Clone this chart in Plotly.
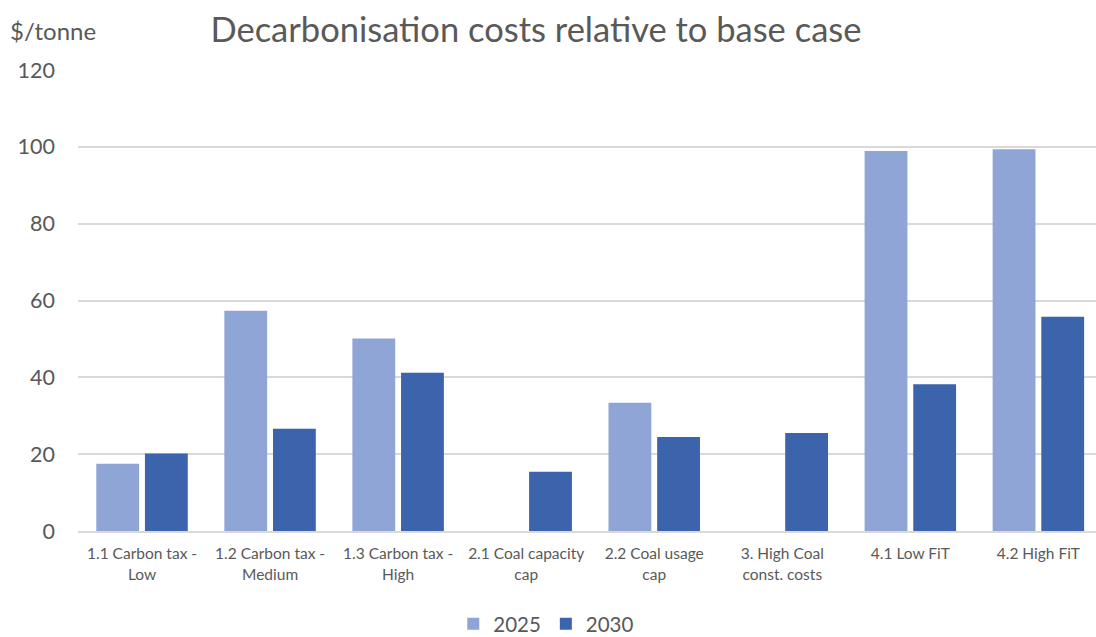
import plotly.graph_objects as go

categories = [
    "1.1 Carbon tax -<br>Low",
    "1.2 Carbon tax -<br>Medium",
    "1.3 Carbon tax -<br>High",
    "2.1 Coal capacity<br>cap",
    "2.2 Coal usage<br>cap",
    "3. High Coal<br>const. costs",
    "4.1 Low FiT",
    "4.2 High FiT",
]
values_2025 = [17.5, 57.3, 50.1, None, 33.4, None, 98.9, 99.4]
values_2030 = [20.2, 26.6, 41.2, 15.4, 24.5, 25.5, 38.2, 55.8]

FONT = "Lato"
TEXT = "#595959"

fig = go.Figure()
fig.add_trace(go.Bar(name="2025", x=categories, y=values_2025,
                     marker=dict(color="#8FA5D5", line=dict(width=0))))
fig.add_trace(go.Bar(name="2030", x=categories, y=values_2030,
                     marker=dict(color="#3B64AD", line=dict(width=0))))

fig.update_layout(
    width=1096, height=637,
    paper_bgcolor="white", plot_bgcolor="white",
    margin=dict(l=78, r=0, t=70, b=106, autoexpand=False),
    barmode="group", bargap=0.24, bargroupgap=0.12,
    font=dict(family=FONT, color=TEXT),
    title=dict(text="Decarbonisation costs relative to base case",
               x=0.489, xanchor="center", y=0.953, yanchor="middle",
               font=dict(size=34.5, color=TEXT, family=FONT)),
    xaxis=dict(showgrid=False, showline=True, linecolor="#D9D9D9", linewidth=1.5,
               ticks="", tickfont=dict(size=15.5, color=TEXT), automargin=False,
               range=[-0.5, 7.45], ticklabelstandoff=8),
    yaxis=dict(range=[0, 120], dtick=20, showgrid=True, gridcolor="#D9D9D9",
               gridwidth=1.5, zeroline=False, showline=False, ticks="",
               ticklabelstandoff=22, tickfont=dict(size=21.5, color=TEXT),
               automargin=False),
    legend=dict(orientation="h", x=0.46, xanchor="center", y=-0.158, yanchor="top",
                font=dict(size=20.5, color=TEXT), itemwidth=30, traceorder="normal"),
    annotations=[dict(text="$/tonne", xref="paper", yref="paper", x=-0.069, y=1.085,
                      xanchor="left", yanchor="middle", showarrow=False,
                      font=dict(size=24, color=TEXT, family=FONT))],
)

fig.write_html("out.html")
